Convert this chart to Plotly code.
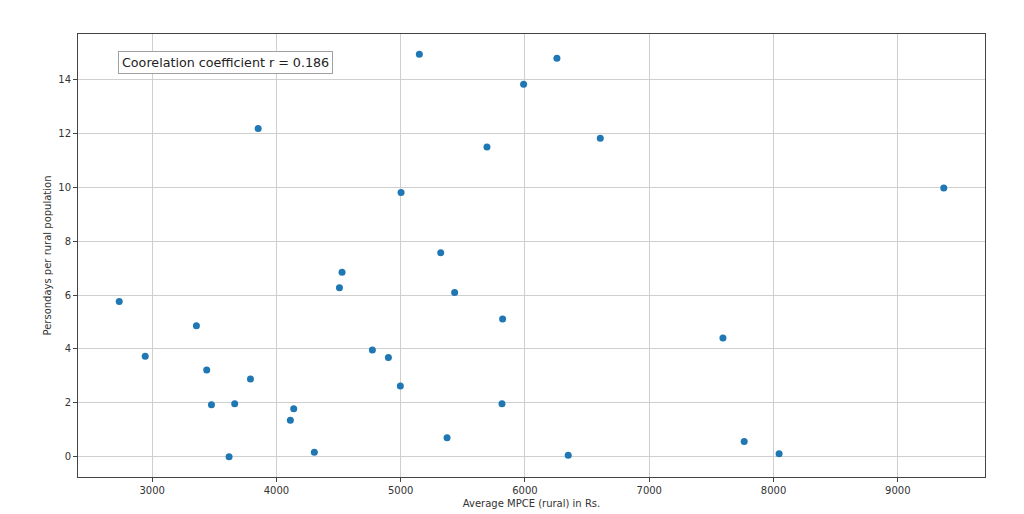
import plotly.graph_objects as go

mpce = [2735, 2944, 3356, 3439, 3477, 3619, 3664, 3791, 3853, 4112, 4139, 4305,
        4507, 4528, 4772, 4901, 4997, 5003, 5150, 5322, 5373, 5434, 5694, 5815,
        5820, 5989, 6257, 6348, 6606, 7593, 7764, 8045, 9370]
persondays = [5.76, 3.73, 4.86, 3.22, 1.93, 0.00, 1.97, 2.89, 12.17, 1.36, 1.78, 0.17,
              6.27, 6.84, 3.96, 3.68, 2.63, 9.80, 14.93, 7.57, 0.71, 6.09, 11.49, 1.97,
              5.11, 13.81, 14.78, 0.06, 11.81, 4.41, 0.57, 0.12, 9.97]
x_ticks = [3000, 4000, 5000, 6000, 7000, 8000, 9000]
y_ticks = [0, 2, 4, 6, 8, 10, 12, 14]
annotation_text = "Coorelation coefficient r = 0.186"


def padded(vals, frac=0.05):
    lo, hi = min(vals), max(vals)
    d = (hi - lo) * frac
    return [lo - d, hi + d]


FONT = "DejaVu Sans"
fig = go.Figure()
fig.add_trace(go.Scatter(
    x=mpce, y=persondays, mode="markers",
    marker=dict(color="#1f77b4", size=7, line=dict(width=0)),
    showlegend=False,
))

axis_common = dict(
    showgrid=True, gridcolor="#cfcfcf", gridwidth=1,
    showline=True, linecolor="#444444", linewidth=1, mirror=True,
    ticks="outside", ticklen=4, tickcolor="#444444", tickwidth=1,
    zeroline=False, tickfont=dict(family=FONT, size=10, color="#333333"),
)

fig.update_layout(
    width=1024, height=514,
    margin=dict(l=70, r=47, t=26, b=45),
    paper_bgcolor="white", plot_bgcolor="white",
    font=dict(family=FONT, color="#333333"),
    xaxis=dict(range=padded(mpce), tickvals=x_ticks,
               ticktext=[str(v) for v in x_ticks],
               title=dict(text="Average MPCE (rural) in Rs.",
                          font=dict(family=FONT, size=10, color="#333333"),
                          standoff=4),
               **axis_common),
    yaxis=dict(range=padded(persondays), tickvals=y_ticks,
               ticktext=[str(v) for v in y_ticks],
               title=dict(text="Persondays per rural population",
                          font=dict(family=FONT, size=10, color="#333333"),
                          standoff=4),
               **axis_common),
)

fig.add_annotation(
    x=0.163, y=0.935, xref="paper", yref="paper",
    xanchor="center", yanchor="middle",
    text=annotation_text, showarrow=False,
    font=dict(family=FONT, size=12.7, color="#222222"),
    bgcolor="white", bordercolor="#a0a0a0", borderwidth=1, borderpad=3,
)

fig.write_html("out.html")
